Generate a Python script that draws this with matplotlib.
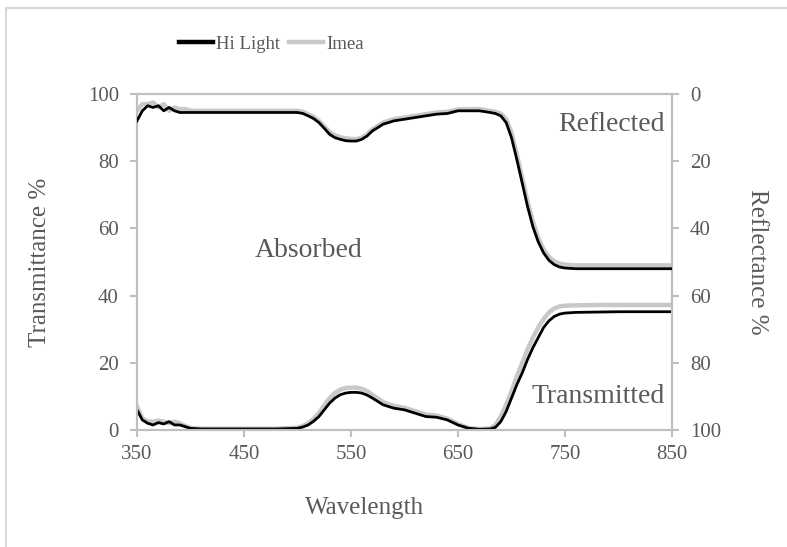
import matplotlib.pyplot as plt
from matplotlib.patches import Rectangle

# Spectra sampled in nm (denser where the curves bend)
wavelength = [350, 355, 360, 365, 370, 375, 380, 385, 390, 395, 400,
              410, 420, 440, 460, 480, 500,
              505, 510, 515, 520, 525, 530, 535, 540, 545, 550, 555, 560, 565, 570,
              580, 590, 600, 610, 620, 630, 640, 650, 660, 670, 680,
              685, 690, 695, 700, 705, 710, 715, 720, 725, 730, 735, 740, 745, 750,
              760, 780, 800, 850]

# Transmittance % (left axis)
trans_hilight = [6.0, 3.0, 2.0, 1.5, 2.2, 1.8, 2.5, 1.5, 1.5, 1.0, 0.5,
                 0.3, 0.3, 0.3, 0.3, 0.3, 0.5,
                 0.9, 1.5, 2.6, 4.0, 6.0, 8.0, 9.5, 10.5, 11.0, 11.2, 11.2, 11.0, 10.4, 9.5,
                 7.5, 6.5, 6.0, 5.0, 4.0, 3.8, 3.0, 1.5, 0.5, 0.2, 0.3,
                 0.8, 2.5, 5.5, 9.5, 13.5, 17.0, 21.0, 24.5, 27.5, 30.5, 32.5, 33.8, 34.5, 34.8,
                 35.0, 35.1, 35.2, 35.2]
trans_imea = [7.0, 3.5, 2.5, 2.5, 2.8, 2.5, 2.0, 2.5, 2.0, 1.2, 0.6,
              0.4, 0.4, 0.4, 0.4, 0.4, 0.7,
              1.2, 2.0, 3.3, 5.0, 7.3, 9.5, 11.0, 12.0, 12.5, 12.6, 12.6, 12.3, 11.6, 10.5,
              8.3, 7.2, 6.6, 5.6, 4.6, 4.3, 3.4, 1.8, 0.6, 0.3, 0.5,
              1.5, 4.0, 7.5, 11.5, 16.0, 20.0, 24.0, 27.5, 30.5, 33.0, 35.0, 36.2, 36.8, 37.0,
              37.1, 37.2, 37.2, 37.2]

# Reflectance % (right axis, reversed)
refl_hilight = [8.0, 5.0, 3.5, 4.0, 3.5, 5.0, 4.0, 5.0, 5.5, 5.5, 5.5,
                5.5, 5.5, 5.5, 5.5, 5.5, 5.5,
                5.8, 6.5, 7.3, 8.5, 10.2, 12.0, 13.0, 13.5, 13.9, 14.0, 14.0, 13.5, 12.5, 11.0,
                9.0, 8.0, 7.5, 7.0, 6.5, 6.0, 5.8, 5.0, 5.0, 5.0, 5.5,
                5.8, 6.5, 8.5, 13.0, 19.5, 26.5, 33.5, 39.5, 44.0, 47.3, 49.5, 50.8, 51.5, 51.8,
                52.0, 52.0, 52.0, 52.0]
refl_imea = [5.0, 3.0, 3.0, 2.5, 4.0, 3.0, 5.0, 4.0, 4.5, 4.5, 5.0,
             5.0, 5.0, 5.0, 5.0, 5.0, 5.0,
             5.3, 6.0, 6.8, 8.0, 9.6, 11.3, 12.3, 12.9, 13.2, 13.4, 13.4, 13.0, 12.0, 10.5,
             8.5, 7.5, 7.0, 6.5, 6.0, 5.5, 5.3, 4.6, 4.5, 4.5, 5.0,
             5.3, 5.8, 7.5, 11.5, 18.0, 25.0, 32.0, 38.0, 42.8, 46.3, 48.5, 49.8, 50.5, 50.8,
             51.0, 51.0, 51.0, 51.0]

TXT = '#595959'
AX = '#bfbfbf'
plt.rcParams['font.family'] = ['Liberation Serif', 'DejaVu Serif']

fig = plt.figure(figsize=(7.87, 5.47), dpi=100)
ax = fig.add_axes([137 / 787, 1 - 430 / 547, 535 / 787, 336 / 547])
ax2 = ax.twinx()

# chart frame border
fig.patches.append(Rectangle((6 / 787, -0.1), 1.2, 1 - 8 / 547 + 0.1,
                             transform=fig.transFigure, fill=False,
                             edgecolor='#d9d9d9', linewidth=1.5))

ax.plot(wavelength, trans_imea, color='#c8c8c8', lw=3.2, zorder=2)
ax.plot(wavelength, trans_hilight, color='black', lw=2.0, zorder=3)
ax2.plot(wavelength, refl_imea, color='#c8c8c8', lw=3.2, zorder=2, label='Imea')
ax2.plot(wavelength, refl_hilight, color='black', lw=2.0, zorder=3, label='Hi Light')

ax.set_xlim(350, 850)
ax.set_ylim(0, 100)
ax2.set_ylim(100, 0)
ax.set_xticks(range(350, 851, 100))
ax.set_yticks(range(0, 101, 20))
ax2.set_yticks(range(0, 101, 20))

for a in (ax, ax2):
    for s in a.spines.values():
        s.set_color(AX)
        s.set_linewidth(1.5)
    a.tick_params(colors=AX, labelcolor=TXT, labelsize=15, length=5, width=1.5,
                  direction='out')
ax.tick_params(axis='x', pad=6)
ax.tick_params(axis='y', pad=8)
ax2.tick_params(axis='y', pad=8)

ax.set_xlabel('Wavelength', fontsize=18, color=TXT, va='center')
ax.xaxis.set_label_coords((365 - 137) / 535, (430 - 508) / 336)
ax.set_ylabel('Transmittance %', fontsize=18, color=TXT, va='center')
ax.yaxis.set_label_coords((40 - 137) / 535, 0.5)
ax2.set_ylabel('Reflectance %', fontsize=18, color=TXT, rotation=-90, va='center')
ax2.yaxis.set_label_coords((757 - 137) / 535, 0.5)

ax.text(510, 53.5, 'Absorbed', fontsize=20, color=TXT, ha='center', va='center')
ax.text(843, 91, 'Reflected', fontsize=20, color=TXT, ha='right', va='center')
ax.text(843, 10, 'Transmitted', fontsize=20, color=TXT, ha='right', va='center')

h, l = ax2.get_legend_handles_labels()
leg = fig.legend([h[1], h[0]], [l[1], l[0]], loc='center',
                 bbox_to_anchor=(0.345, 1 - 44 / 547), ncol=2, frameon=False,
                 fontsize=13.5, labelcolor=TXT, handlelength=1.8,
                 handletextpad=0.15, columnspacing=0.5)
for line in leg.get_lines():
    line.set_linewidth(3.2)

fig.savefig('out.png', dpi=100)
